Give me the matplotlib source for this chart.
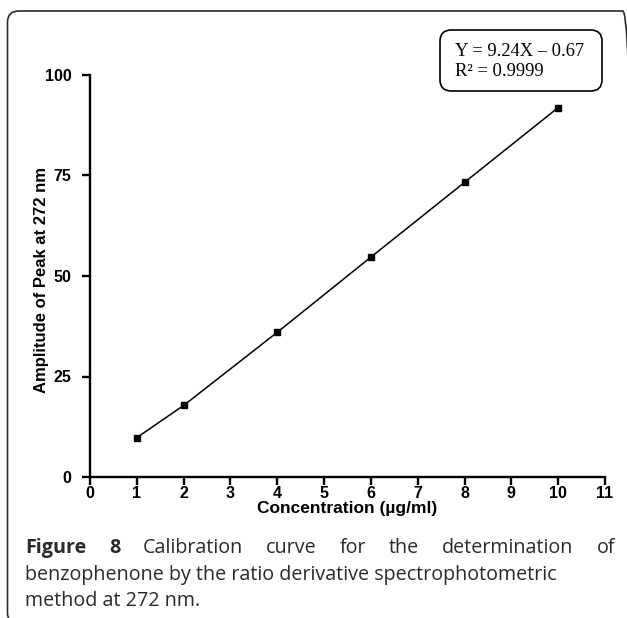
import matplotlib
matplotlib.use("Agg")
import matplotlib.pyplot as plt
from matplotlib.patches import FancyBboxPatch

# calibration data
conc = [1, 2, 4, 6, 8, 10]
amplitude = [9.8, 17.8, 36.0, 54.7, 73.3, 91.9]
x_ticks = list(range(0, 12))
y_ticks = [0, 25, 50, 75, 100]
eq_lines = ["Y = 9.24X \u2013 0.67", "R\u00b2 = 0.9999"]

W, H = 627, 618
fig = plt.figure(figsize=(W / 100, H / 100), dpi=100)


def fx(px):
    return px / W


def fy(py):
    return 1 - py / H


# rounded outer frame, right and bottom sides run off the image
frame = FancyBboxPatch((fx(7.5), fy(624)), fx(634) - fx(7.5), fy(11) - fy(624),
                       boxstyle="round,pad=0,rounding_size=0.018",
                       transform=fig.transFigure, fill=False,
                       edgecolor="#2b2b2b", lw=1.2, clip_on=False)
fig.patches.append(frame)

ax = fig.add_axes([fx(90), fy(477), fx(605) - fx(90), fy(75) - fy(477)])
ax.plot(conc, amplitude, "-", color="black", lw=1.1,
        marker="s", markersize=5, markerfacecolor="black")
ax.set_xlim(0, 11)
ax.set_ylim(0, 100)
ax.set_xticks(x_ticks)
ax.set_yticks(y_ticks)
for s in ("top", "right"):
    ax.spines[s].set_visible(False)
for s in ("left", "bottom"):
    ax.spines[s].set_linewidth(1.7)
    ax.spines[s].set_capstyle("projecting")
ax.tick_params(width=1.7, length=5.5, labelsize=11.5, direction="out")
ax.tick_params(axis="x", pad=1)
ax.tick_params(axis="y", pad=8)
for lab in ax.get_xticklabels() + ax.get_yticklabels():
    lab.set_fontfamily("Liberation Sans")
    lab.set_fontweight("bold")
ax.set_xlabel("Concentration (\u00b5g/ml)", family="Liberation Sans",
              weight="bold", fontsize=12.5, labelpad=0)
ax.set_ylabel("Amplitude of Peak at 272 nm", family="Liberation Sans",
              weight="bold", fontsize=12)
ax.yaxis.set_label_coords(fx(40) - fx(90), (fy(280) - fy(477)) / (fy(75) - fy(477)),
                          transform=ax.transAxes)

# equation box
eq_box = FancyBboxPatch((fx(440), fy(91)), fx(602) - fx(440), fy(30) - fy(91),
                        boxstyle="round,pad=0,rounding_size=0.018",
                        transform=fig.transFigure, fill=False,
                        edgecolor="black", lw=1.2)
fig.patches.append(eq_box)
fig.text(fx(455), fy(52), eq_lines[0], family="Liberation Serif", fontsize=13.3,
         va="center", ha="left")
fig.text(fx(455), fy(72), eq_lines[1], family="Liberation Serif", fontsize=13.3,
         va="center", ha="left")

# caption, first line justified
cap_color = "#2a2a2a"
cap_size = 14.2
words1 = [("Figure", "bold"), ("8", "bold"), ("Calibration", "normal"),
          ("curve", "normal"), ("for", "normal"), ("the", "normal"),
          ("determination", "normal"), ("of", "normal")]
left, right = 25, 615
fig.canvas.draw()
r = fig.canvas.get_renderer()
texts = []
total = 0
for w, wt in words1:
    t = fig.text(0, fy(548), w, family="Open Sans", weight=wt, fontsize=cap_size,
                 color=cap_color, va="center", ha="left")
    texts.append(t)
    total += t.get_window_extent(r).width
gap = (right - left - total) / (len(words1) - 1)
xpos = left
for t in texts:
    t.set_x(fx(xpos))
    xpos += t.get_window_extent(r).width + gap

fig.text(fx(left), fy(575), "benzophenone by the ratio derivative spectrophotometric",
         family="Open Sans", fontsize=cap_size, color=cap_color, va="center", ha="left")
fig.text(fx(left), fy(601), "method at 272 nm.", family="Open Sans",
         fontsize=cap_size, color=cap_color, va="center", ha="left")

fig.savefig("out.png", dpi=100)
